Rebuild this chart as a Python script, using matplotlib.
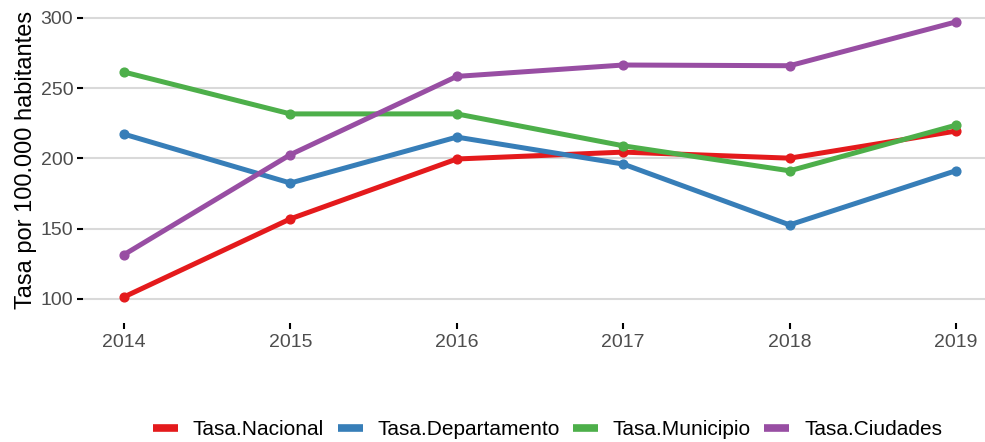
import numpy as np
import matplotlib
matplotlib.use("Agg")
import matplotlib.pyplot as plt

# datos
anios = [2014, 2015, 2016, 2017, 2018, 2019]
tasa_nacional = [101.4, 157.0, 199.6, 204.5, 200.2, 219.5]
tasa_departamento = [217.3, 182.5, 215.2, 196.0, 152.7, 191.3]
tasa_municipio = [261.5, 231.7, 231.7, 209.0, 191.2, 223.7]
tasa_ciudades = [131.5, 202.7, 258.4, 266.5, 266.0, 297.2]

series = [
    ("Tasa.Nacional", tasa_nacional, "#E41A1C"),
    ("Tasa.Departamento", tasa_departamento, "#377EB8"),
    ("Tasa.Municipio", tasa_municipio, "#4DAF4A"),
    ("Tasa.Ciudades", tasa_ciudades, "#984EA3"),
]

plt.rcParams['font.family'] = ['Liberation Sans', 'DejaVu Sans']

fig = plt.figure(figsize=(9.85, 4.42), dpi=100)
ax = fig.add_axes([0.0843, 0.297, 0.9157, 0.684])

for nombre, vals, col in series:
    ax.plot(anios, vals, color=col, lw=3.6, marker='o', markersize=6.3,
            solid_capstyle='round', label=nombre)

ax.set_xlim(2013.754, 2019.174)
ax.set_ylim(91.6, 306.8)
ax.set_yticks([100, 150, 200, 250, 300])
ax.set_xticks(anios)
ax.grid(axis='y', color='#D9D9D9', lw=1.5)
ax.set_axisbelow(True)
for s in ax.spines.values():
    s.set_visible(False)
ax.spines['bottom'].set_position(('outward', 9))
ax.tick_params(axis='both', colors='black', length=4, width=1.5,
               labelcolor='#4D4D4D', labelsize=14)
ax.tick_params(axis='x', pad=4)
ax.tick_params(axis='y', pad=3)
ax.set_ylabel("Tasa por 100.000 habitantes", fontsize=17, color='black', labelpad=3)

leg = fig.legend(loc='lower center', bbox_to_anchor=(0.556, -0.036), ncol=4,
                 frameon=False, fontsize=15, handlelength=1.2, handletextpad=0.7,
                 columnspacing=0.65)
for h in leg.legend_handles:
    h.set_marker('')
    h.set_linewidth(5.5)
    h.set_solid_capstyle('butt')

fig.savefig("out.png", dpi=100)
